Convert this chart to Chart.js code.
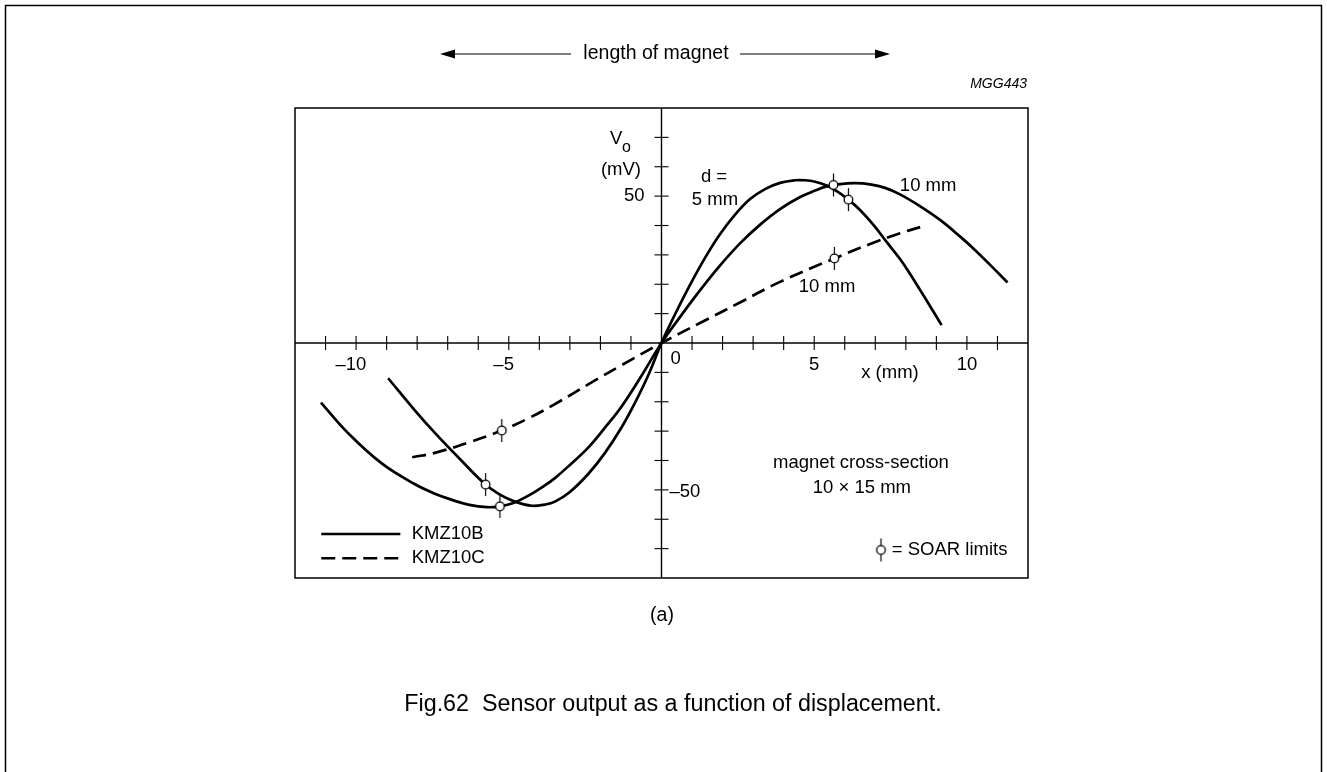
<!DOCTYPE html>
<html><head><meta charset="utf-8">
<script src="https://cdn.jsdelivr.net/npm/chart.js@4/dist/chart.umd.min.js"></script>
<style>html,body{margin:0;padding:0;background:#fff;overflow:hidden}#wrap{position:relative;width:1327px;height:772px}</style>
</head><body><div id="wrap"><canvas id="c" width="1327" height="772"></canvas></div>
<script>
// ---- data ----
const xTicks = [-11,-10,-9,-8,-7,-6,-5,-4,-3,-2,-1,1,2,3,4,5,6,7,8,9,10,11];
const yTicks = [-70,-60,-50,-40,-30,-20,-10,10,20,30,40,50,60,70];
const xLabelVals = [-10,-5,0,5,10];
const xLabelText = ['\u201310','\u20135','0','5','10'];
const yLabelVals = [50,-50];
const yLabelText = ['50','\u201350'];

// KMZ10B, d = 5 mm
const d5X = [-8.95,-8.07,-7.42,-6.6,-5.76,-5.29,-4.8,-4.25,-3.82,-3.49,-3.0,-2.4,-1.85,-1.3,-0.87,-0.43,0,
             0.44,0.93,1.42,1.92,2.41,2.9,3.39,3.88,4.37,4.7,5.03,5.41,5.75,6.12,6.5,6.94,7.37,7.81,8.14,8.47,8.79,9.17];
const d5Y = [-12.0,-23.0,-30.6,-39.5,-48.2,-51.6,-54.0,-55.4,-55.0,-54.0,-50.7,-44.6,-37.4,-28.6,-20.4,-10.9,0,
             9.7,19.7,28.9,37.1,43.7,49.0,52.4,54.5,55.4,55.4,54.9,53.6,51.6,48.8,45.3,40.2,34.4,28.6,23.5,18.0,12.6,6.1];
// KMZ10B, d = 10 mm
const d10X = [-11.15,-10.27,-9.16,-8.07,-7.42,-6.86,-6.33,-5.72,-5.29,-4.85,-4.31,-3.82,-3.49,-3.0,-2.4,-1.85,-1.3,-0.67,0,
              0.61,1.26,1.92,2.57,3.23,3.88,4.54,5.03,5.41,5.85,6.34,6.83,7.32,7.81,8.46,9.12,9.77,10.21,10.76,11.33];
const d10Y = [-20.3,-30.6,-41.0,-48.1,-51.3,-53.4,-55.0,-55.9,-55.6,-54.5,-51.7,-48.5,-46.0,-41.5,-35.6,-28.8,-21.5,-11.4,0,
              8.9,17.9,26.4,33.9,40.3,45.6,49.7,51.9,53.3,54.1,54.4,54.0,52.8,50.6,46.6,41.9,36.3,32.2,26.6,20.6];
// KMZ10C, d = 10 mm
const cX = [-8.16,-7.42,-6.27,-5.23,-4.31,-3.49,-2.4,-1.3,0,1.26,2.57,3.88,5.66,6.83,7.81,8.55];
const cY = [-38.9,-37.4,-33.7,-29.8,-25.4,-20.8,-14.1,-7.5,0,6.8,13.8,20.8,28.8,33.7,37.35,39.7];
// SOAR limits
const soarX = [6.12,5.63,5.66,-5.76,-5.29,-5.23];
const soarY = [48.8,53.8,28.8,-48.2,-55.6,-29.8];

const pts = (xs, ys) => xs.map((v, i) => ({x: v, y: ys[i]}));
const F = '"Liberation Sans", Arial, Helvetica, sans-serif';

function makeSoar(){
  const c = document.createElement('canvas'); c.width = 15; c.height = 27;
  const g = c.getContext('2d');
  g.strokeStyle = '#000'; g.lineWidth = 1.2;
  g.beginPath(); g.moveTo(7.5, 2); g.lineTo(7.5, 25); g.stroke();
  g.lineWidth = 1.3;
  g.beginPath(); g.arc(7.5, 13.5, 4.3, 0, Math.PI*2); g.fillStyle = '#fff'; g.fill(); g.stroke();
  return c;
}
const soarImg = makeSoar();

function ln(ctx, x1, y1, x2, y2){ ctx.beginPath(); ctx.moveTo(x1, y1); ctx.lineTo(x2, y2); ctx.stroke(); }
function arrowHead(ctx, tx, ty, dir){
  ctx.beginPath(); ctx.moveTo(tx, ty); ctx.lineTo(tx + dir*15, ty - 4.5); ctx.lineTo(tx + dir*15, ty + 4.5); ctx.closePath(); ctx.fill();
}

const deco = {
  id: 'deco',
  beforeDatasetsDraw(chart){
    const {ctx, chartArea: a, scales: {x, y}} = chart;
    ctx.save();
    ctx.strokeStyle = '#000'; ctx.fillStyle = '#000';
    ctx.lineWidth = 1.5;
    ctx.strokeRect(5.5, 5.5, 1316, 820);
    ctx.strokeRect(a.left, a.top, a.right - a.left, a.bottom - a.top);
    const x0 = x.getPixelForValue(0), y0 = y.getPixelForValue(0);
    ctx.lineWidth = 1.4;
    ln(ctx, a.left, y0, a.right, y0);
    ln(ctx, x0, a.top, x0, a.bottom);
    ctx.lineWidth = 1.1;
    xTicks.forEach(v => { const p = x.getPixelForValue(v); ln(ctx, p, y0 - 7, p, y0 + 7); });
    yTicks.forEach(v => { const p = y.getPixelForValue(v); ln(ctx, x0 - 7, p, x0 + 7, p); });
    ctx.restore();
  },
  afterDatasetsDraw(chart){
    const {ctx, scales: {x, y}} = chart;
    const X = v => x.getPixelForValue(v), Y = v => y.getPixelForValue(v);
    const x0 = X(0), y0 = Y(0);
    ctx.save();
    ctx.fillStyle = '#000'; ctx.strokeStyle = '#000';
    ctx.font = '18.5px ' + F; ctx.textBaseline = 'middle';
    // x tick labels
    xLabelVals.forEach((v, i) => {
      const t = xLabelText[i];
      if (v === 0) { ctx.textAlign = 'left'; ctx.fillText(t, x0 + 9, y0 + 16); return; }
      const digits = t.replace('\u2013', '');
      const w = ctx.measureText(digits).width;
      ctx.textAlign = 'right'; ctx.fillText(t, X(v) + w/2, y0 + 22);
    });
    // y tick labels
    yLabelVals.forEach((v, i) => {
      if (v > 0) { ctx.textAlign = 'right'; ctx.fillText(yLabelText[i], x0 - 17, Y(v)); }
      else { ctx.textAlign = 'left'; ctx.fillText(yLabelText[i], x0 + 8, Y(v) + 2); }
    });
    // axis titles
    ctx.textAlign = 'left'; ctx.fillText('V', 610, 139);
    ctx.font = '16px ' + F; ctx.fillText('o', 622, 148);
    ctx.font = '18.5px ' + F; ctx.textAlign = 'right'; ctx.fillText('(mV)', 641, 170);
    ctx.textAlign = 'center';
    ctx.fillText('x (mm)', X(7.48), Y(-10.2));
    // curve annotations
    ctx.fillText('d =', X(1.72), Y(56.5));
    ctx.fillText('5 mm', X(1.75), Y(48.7));
    ctx.fillText('10 mm', X(8.73), Y(53.4));
    ctx.fillText('10 mm', X(5.42), Y(19.2));
    ctx.fillText('magnet cross-section', X(6.53), Y(-40.7));
    ctx.fillText('10 \u00d7 15 mm', X(6.56), Y(-49.4));
    // SOAR legend
    ctx.drawImage(soarImg, Math.round(X(7.18)) - 7.5, Math.round(Y(-70.5)) - 13.5);
    ctx.textAlign = 'left'; ctx.fillText('= SOAR limits', X(7.54), Y(-70.5));
    // line legend
    ctx.lineWidth = 2.6;
    ln(ctx, X(-11.14), Y(-65), X(-8.55), Y(-65));
    ctx.setLineDash([14, 7]);
    ln(ctx, X(-11.14), Y(-73.3), X(-8.55), Y(-73.3));
    ctx.setLineDash([]);
    ctx.fillText('KMZ10B', X(-8.18), Y(-65));
    ctx.fillText('KMZ10C', X(-8.18), Y(-73.3));
    // top: length of magnet
    ctx.font = '19.5px ' + F;
    ctx.textAlign = 'center'; ctx.fillText('length of magnet', 656, 54);
    ctx.lineWidth = 1.2;
    ln(ctx, 445, 54, 571, 54); ln(ctx, 740, 54, 885, 54);
    arrowHead(ctx, 440, 54, 1); arrowHead(ctx, 890, 54, -1);
    ctx.font = 'italic 14px ' + F; ctx.textAlign = 'right';
    ctx.fillText('MGG443', 1027, 84);
    ctx.font = '19.5px ' + F; ctx.textAlign = 'center';
    ctx.fillText('(a)', 662, 616);
    ctx.font = '23.3px ' + F;
    ctx.fillText('Fig.62  Sensor output as a function of displacement.', 673, 705);
    ctx.restore();
  }
};

const lineDs = (label, data, dash) => ({
  label, data, borderColor: '#000', borderWidth: 2.7, borderDash: dash,
  pointRadius: 0, fill: false, tension: 0.4, order: 1
});

new Chart(document.getElementById('c'), {
  type: 'line',
  data: {
    datasets: [
      { label: 'SOAR limits', data: pts(soarX, soarY), showLine: false,
        pointStyle: soarImg, pointRadius: 6, order: 0 },
      lineDs('KMZ10B d = 5 mm', pts(d5X, d5Y), []),
      lineDs('KMZ10B d = 10 mm', pts(d10X, d10Y), []),
      lineDs('KMZ10C d = 10 mm', pts(cX, cY), [14, 7])
    ]
  },
  options: {
    responsive: false, animation: false, devicePixelRatio: 1,
    layout: { padding: { left: 295, right: 299, top: 108, bottom: 194 } },
    plugins: { legend: { display: false }, tooltip: { enabled: false } },
    scales: {
      x: { type: 'linear', min: -12, max: 12, display: false },
      y: { type: 'linear', min: -80, max: 80, display: false }
    }
  },
  plugins: [deco]
});
</script></body></html>
